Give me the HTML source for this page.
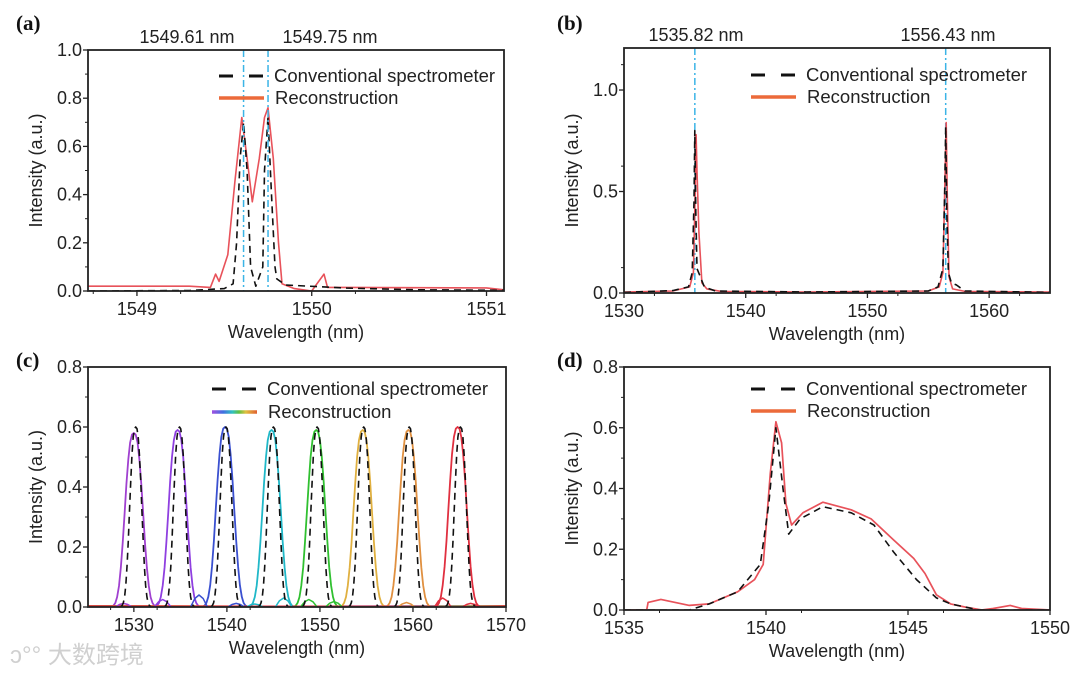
<!DOCTYPE html>
<html><head><meta charset="utf-8">
<style>
html,body{margin:0;padding:0;background:#fff;}
svg{display:block;font-family:"Liberation Sans",sans-serif;}
.tk{font-size:18px;fill:#222;}
.ttl{font-size:18px;fill:#222;}
.leg{font-size:18.5px;fill:#222;}
.lab{font-family:"Liberation Serif",serif;font-weight:bold;font-size:21px;fill:#111;}
</style></head>
<body>
<svg id="fig" width="1080" height="675" viewBox="0 0 1080 675" xmlns="http://www.w3.org/2000/svg">
<defs>
<linearGradient id="rainbow" gradientUnits="userSpaceOnUse" x1="212" x2="257" y1="0" y2="0">
<stop offset="0" stop-color="#a050e0"/><stop offset="0.25" stop-color="#4070e0"/><stop offset="0.45" stop-color="#30c0c0"/><stop offset="0.6" stop-color="#60c040"/><stop offset="0.75" stop-color="#e0c040"/><stop offset="1" stop-color="#e06030"/>
</linearGradient>
</defs>
<text x="10" y="663" font-size="24" fill="#d0d0d0" font-family="'Liberation Sans','Noto Sans CJK SC',sans-serif">ↄ°° 大数跨境</text>
</svg>
<script>
// ---------- Panel (a) data ----------
const aConvX=[1548.72,1549.3,1549.5,1549.55,1549.57,1549.59,1549.61,1549.63,1549.65,1549.68,1549.72,1549.73,1549.75,1549.77,1549.79,1549.8,1549.85,1550.2,1550.6,1551.1];
const aConvY=[0.0,0.002,0.01,0.03,0.2,0.55,0.7,0.5,0.1,0.02,0.1,0.5,0.72,0.4,0.1,0.05,0.025,0.012,0.005,0.003];
const aRecX=[1548.72,1549.3,1549.42,1549.45,1549.47,1549.52,1549.56,1549.6,1549.63,1549.66,1549.7,1549.73,1549.75,1549.78,1549.81,1549.83,1549.9,1550.0,1550.04,1550.07,1550.09,1550.2,1551.0,1551.1];
const aRecY=[0.02,0.02,0.015,0.07,0.04,0.15,0.45,0.72,0.55,0.37,0.55,0.72,0.76,0.55,0.2,0.03,0.01,0.0,0.04,0.07,0.015,0.015,0.013,0.005];
const aMarks=[1549.61,1549.75];
const aMarkLabels=["1549.61 nm","1549.75 nm"];
const aXTicks=[1549,1550,1551];
const aYTicks=[0,0.2,0.4,0.6,0.8,1.0];
// ---------- Panel (b) data ----------
const bConvX=[1530,1534,1535.3,1535.6,1535.75,1535.82,1535.9,1536.0,1536.2,1536.6,1537.5,1545,1555,1555.8,1556.2,1556.35,1556.43,1556.52,1556.65,1556.9,1557.3,1558,1565];
const bConvY=[0.003,0.012,0.03,0.1,0.45,0.8,0.4,0.12,0.09,0.03,0.01,0.005,0.01,0.03,0.12,0.5,0.82,0.4,0.1,0.05,0.04,0.01,0.003];
const bRecX=[1530,1534,1535.4,1535.7,1535.85,1535.92,1536.0,1536.15,1536.4,1536.8,1538,1545,1555,1555.9,1556.2,1556.35,1556.47,1556.55,1556.7,1557.0,1558,1565];
const bRecY=[0.005,0.01,0.03,0.1,0.5,0.78,0.6,0.3,0.05,0.02,0.008,0.005,0.01,0.03,0.1,0.5,0.84,0.5,0.08,0.02,0.008,0.005];
const bMarks=[1535.82,1556.43];
const bMarkLabels=["1535.82 nm","1556.43 nm"];
const bXTicks=[1530,1540,1550,1560];
const bYTicks=[0,0.5,1.0];
// ---------- Panel (c) data ----------
const cCenters=[1530.0,1534.7,1539.8,1544.8,1549.6,1554.6,1559.5,1564.8];
const cRecPeaks=[0.58,0.59,0.6,0.59,0.59,0.59,0.59,0.6];
const cConvCenters=[1530.2,1534.9,1539.9,1545.0,1549.7,1554.7,1559.6,1565.1];
const cConvPeaks=[0.6,0.6,0.6,0.6,0.6,0.6,0.6,0.6];
const cColors=["#a040d0","#8f3fe0","#3a50d0","#20b8c8","#30c030","#e0b040","#e09040","#e03040"];
const cRippleX=[1528.9,1533.1,1537.0,1541.0,1543.0,1546.1,1548.8,1551.5,1559.3,1563.2,1566.2];
const cRippleY=[0.012,0.025,0.04,0.012,0.01,0.03,0.025,0.018,0.015,0.03,0.012];
const cXTicks=[1530,1540,1550,1560,1570];
const cYTicks=[0,0.2,0.4,0.6,0.8];
// ---------- Panel (d) data ----------
const dConvX=[1535,1537.3,1538,1539,1539.8,1540.1,1540.35,1540.6,1540.8,1541.2,1542,1543,1543.8,1544.5,1545.3,1546,1546.5,1547,1547.5,1550];
const dConvY=[0,0,0.02,0.06,0.15,0.35,0.6,0.4,0.25,0.3,0.34,0.32,0.28,0.19,0.1,0.04,0.02,0.01,0,0];
const dRecX=[1535,1535.8,1535.85,1536.3,1536.8,1537.3,1538,1539,1539.6,1539.9,1540.15,1540.35,1540.55,1540.7,1540.9,1541.3,1542,1543,1543.7,1544.5,1545.2,1545.6,1546,1546.5,1547,1547.6,1548,1548.6,1549,1550];
const dRecY=[0,0,0.025,0.035,0.025,0.015,0.02,0.06,0.1,0.15,0.45,0.62,0.55,0.35,0.28,0.32,0.355,0.33,0.3,0.23,0.17,0.12,0.05,0.02,0.01,0,0.005,0.015,0.005,0];
const dXTicks=[1535,1540,1545,1550];
const dYTicks=[0,0.2,0.4,0.6,0.8];

const NS="http://www.w3.org/2000/svg";
const svg=document.getElementById('fig');
function el(tag,attrs,parent){const e=document.createElementNS(NS,tag);for(const k in attrs)e.setAttribute(k,attrs[k]);(parent||svg).appendChild(e);return e;}

function makePanel(p){
  const g=el('g',{});
  
  
  const sx=v=>p.L+(v-p.x0)/(p.x1-p.x0)*(p.R-p.L);
  const sy=v=>p.B-(v-p.y0)/(p.y1-p.y0)*(p.B-p.T);
  p.sx=sx;p.sy=sy;p.g=g;
  p.xt.forEach((v,i)=>{
    const x=sx(v);
    const t=el('line',{x1:x,x2:x,y1:p.B,y2:p.B+5,stroke:'#222','stroke-width':1.3},g);
    
    const tx=el('text',{x:x,y:p.B+24,'text-anchor':'middle',class:'tk'},g);
    tx.textContent=String(v);
    
  });
  for(let i=0;i<p.xt.length;i++){const m=p.xt[i]+p.xstep/2;if(m>p.x0&&m<p.x1){el('line',{x1:sx(m),x2:sx(m),y1:p.B,y2:p.B+3,stroke:'#222','stroke-width':1},g);} const m2=p.xt[i]-p.xstep/2; if(i==0&&m2>p.x0){el('line',{x1:sx(m2),x2:sx(m2),y1:p.B,y2:p.B+3,stroke:'#222','stroke-width':1},g);}}
  p.yt.forEach(v=>{
    const y=sy(v);
    const t=el('line',{x1:p.L-5,x2:p.L,y1:y,y2:y,stroke:'#222','stroke-width':1.3},g);
    
    const tx=el('text',{x:p.L-6,y:y+6,'text-anchor':'end',class:'tk'},g);
    tx.textContent=v.toFixed(1);
    
    const m=v+p.ystep/2; if(m<p.y1) el('line',{x1:p.L-3,x2:p.L,y1:sy(m),y2:sy(m),stroke:'#222','stroke-width':1},g);
  });
  const xt=el('text',{x:(p.L+p.R)/2,y:p.B+47,'text-anchor':'middle',class:'ttl'},g);
  xt.textContent='Wavelength (nm)';
  
  const cy=(p.T+p.B)/2;
  const yt=el('text',{x:p.L-46,y:cy,'text-anchor':'middle',class:'ttl',transform:`rotate(-90 ${p.L-46} ${cy})`},g);
  yt.textContent='Intensity (a.u.)';
  
  const lb=el('text',{x:p.lx,y:p.ly,class:'lab'},g);
  lb.textContent=p.label;
  
  const clip=el('clipPath',{id:'clip-'+p.name},g);
  el('rect',{x:p.L,y:p.T,width:p.R-p.L,height:p.B-p.T},clip);
  p.plot=el('g',{'clip-path':`url(#clip-${p.name})`},g);
  return p;
}
function finishPanel(p){
  const r=el('rect',{x:p.L,y:p.T,width:p.R-p.L,height:p.B-p.T,fill:'none',stroke:'#222','stroke-width':1.8},p.g);
  
}
function line(p,xs,ys,attrs,name){
  const pts=xs.map((x,i)=>p.sx(x).toFixed(1)+','+p.sy(ys[i]).toFixed(1)).join(' ');
  const l=el('polyline',Object.assign({points:pts,fill:'none','stroke-linejoin':'round'},attrs),p.plot);
  
  
  return l;
}
function legend(p,x,y1,y2,recStroke){
  const g=el('g',{},p.g);
  
  
  el('line',{x1:x,x2:x+44,y1:y1,y2:y1,stroke:'#111','stroke-width':3,'stroke-dasharray':'14 16'},g);
  const t1=el('text',{x:x+55,y:y1+6,class:'leg'},g);t1.textContent='Conventional spectrometer';
  
  el('line',{x1:x,x2:x+45,y1:y2,y2:y2,stroke:recStroke,'stroke-width':3.5},g);
  const t2=el('text',{x:x+56,y:y2+6,class:'leg'},g);t2.textContent='Reconstruction';
  
}
function marks(p,xs,labels,cx){
  xs.forEach((v,i)=>{
    const x=p.sx(v);
    const l=el('line',{x1:x,x2:x,y1:p.T,y2:p.B,stroke:'#3bb4e6','stroke-width':1.5,'stroke-dasharray':'7 3 2 3'},p.plot);
    
    const t=el('text',{x:cx[i],y:p.T-7,'text-anchor':'middle',class:'ttl'},p.g);
    t.textContent=labels[i];
    
  });
}
const RED='#e8525a';
// Panel a
const pa=makePanel({name:'panel-a',L:88,R:504,T:50,B:291,x0:1548.72,x1:1551.1,y0:0,y1:1.0,xt:aXTicks,yt:aYTicks,xstep:0.5,ystep:0.2,label:'(a)',lx:16,ly:30});
line(pa,aRecX,aRecY,{stroke:RED,'stroke-width':1.6},'reconstruction-line');
line(pa,aConvX,aConvY,{stroke:'#111','stroke-width':1.6,'stroke-dasharray':'7 5'},'conventional-line');
marks(pa,aMarks,aMarkLabels,[187,330]);
legend(pa,219,76,98,'#ec6a3a');
finishPanel(pa);
// Panel b
const pb=makePanel({name:'panel-b',L:624,R:1050,T:48,B:293,x0:1530,x1:1565,y0:0,y1:1.207,xt:bXTicks,yt:bYTicks,xstep:5,ystep:0.25,label:'(b)',lx:557,ly:30});
marks(pb,bMarks,bMarkLabels,[696,948]);
line(pb,bRecX,bRecY,{stroke:RED,'stroke-width':1.6},'reconstruction-line');
line(pb,bConvX,bConvY,{stroke:'#111','stroke-width':1.6,'stroke-dasharray':'7 5'},'conventional-line');
legend(pb,751,75,97,'#ec6a3a');
finishPanel(pb);
// Panel c
const pc=makePanel({name:'panel-c',L:88,R:506,T:367,B:607,x0:1525.07,x1:1570,y0:0,y1:0.8,xt:cXTicks,yt:cYTicks,xstep:5,ystep:0.2,label:'(c)',lx:16,ly:367});
function peakShape(c,h,w){const xs=[],ys=[];for(let k=-12;k<=12;k++){const x=c+k*w/6;xs.push(x);const u=k/6;ys.push(h*Math.exp(-Math.pow(Math.abs(u),2.6)));}return [xs,ys];}
cCenters.forEach((c,i)=>{
  const [xs,ys]=peakShape(c,cRecPeaks[i],1.2);
  const xx=[1525].concat(xs,[1570]),yy=[0.003].concat(ys,[0.003]);
  line(pc,xx,yy,{stroke:cColors[i],'stroke-width':1.8},'reconstruction-peak-'+(i+1));
});
cRippleX.forEach((x,i)=>{
  line(pc,[x-0.9,x-0.45,x,x+0.45,x+0.9],[0,cRippleY[i]*0.7,cRippleY[i],cRippleY[i]*0.7,0],{stroke:cColors[Math.min(7,Math.max(0,Math.floor((x-1527)/5)))],'stroke-width':1.5},'ripple');
});
cConvCenters.forEach((c,i)=>{
  const [xs,ys]=peakShape(c,cConvPeaks[i],0.8);
  line(pc,xs,ys,{stroke:'#111','stroke-width':1.6,'stroke-dasharray':'7 5'},'conventional-peak-'+(i+1));
});
legend(pc,212,389,412,'url(#rainbow)');
finishPanel(pc);
// Panel d
const pd=makePanel({name:'panel-d',L:624,R:1050,T:367,B:610,x0:1535,x1:1550,y0:0,y1:0.8,xt:dXTicks,yt:dYTicks,xstep:2.5,ystep:0.2,label:'(d)',lx:557,ly:367});
line(pd,dRecX,dRecY,{stroke:RED,'stroke-width':1.7},'reconstruction-line');
line(pd,dConvX,dConvY,{stroke:'#111','stroke-width':1.6,'stroke-dasharray':'7 5'},'conventional-line');
legend(pd,751,389,411,'#ec6a3a');
finishPanel(pd);
</script>
</body></html>
